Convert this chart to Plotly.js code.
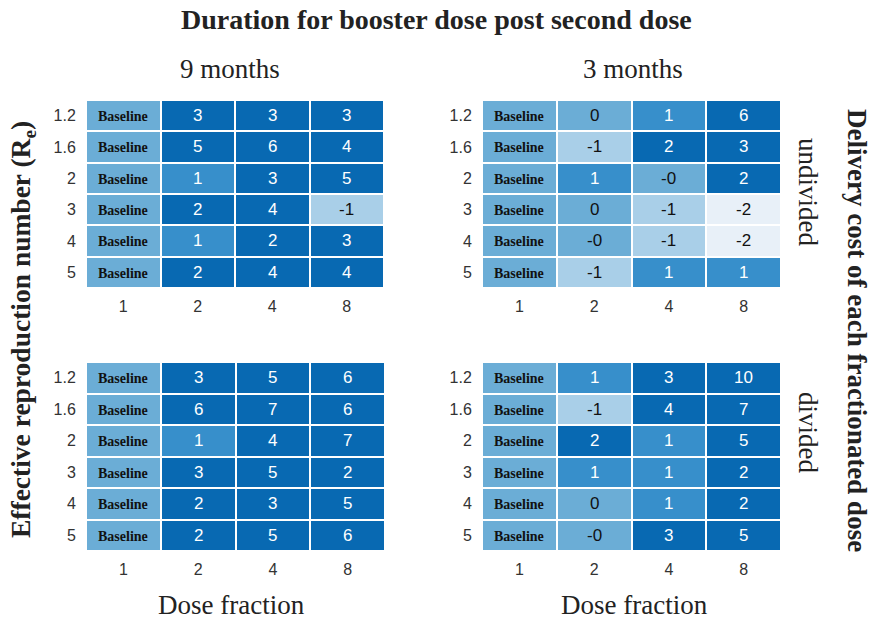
<!DOCTYPE html>
<html>
<head>
<meta charset="utf-8">
<script src="https://cdn.plot.ly/plotly-3.0.1.min.js"></script>
<style>html,body{margin:0;padding:0;background:#fff;}#chart{width:872px;height:619px;}</style>
</head>
<body>
<div id="chart"></div>
<script>
// Data
const rowLabels = ["1.2", "1.6", "2", "3", "4", "5"];
const colLabels = ["1", "2", "4", "8"];
const baselineLabel = "Baseline";
// values for dose fractions 2, 4, 8 (fraction 1 is Baseline)
const nineMonthsUndivided = [["3","3","3"],["5","6","4"],["1","3","5"],["2","4","-1"],["1","2","3"],["2","4","4"]];
const threeMonthsUndivided = [["0","1","6"],["-1","2","3"],["1","-0","2"],["0","-1","-2"],["-0","-1","-2"],["-1","1","1"]];
const nineMonthsDivided = [["3","5","6"],["6","7","6"],["1","4","7"],["3","5","2"],["2","3","5"],["2","5","6"]];
const threeMonthsDivided = [["1","3","10"],["-1","4","7"],["2","1","5"],["1","1","2"],["0","1","2"],["-0","3","5"]];

const colors = ['#e8f0f8', '#a9cfe8', '#6badd6', '#378fcb', '#0869b2'];
const colorscale = [
  [0, colors[0]], [0.125, colors[0]],
  [0.125, colors[1]], [0.375, colors[1]],
  [0.375, colors[2]], [0.625, colors[2]],
  [0.625, colors[3]], [0.875, colors[3]],
  [0.875, colors[4]], [1, colors[4]]
];

const panels = [
  {data: nineMonthsUndivided, xa: 'x', ya: 'y', xd: [86/872, 384/872], yd: [1-288/619, 1-100/619]},
  {data: threeMonthsUndivided, xa: 'x2', ya: 'y2', xd: [482/872, 781/872], yd: [1-288/619, 1-100/619]},
  {data: nineMonthsDivided, xa: 'x3', ya: 'y3', xd: [86/872, 385/872], yd: [1-551/619, 1-362/619]},
  {data: threeMonthsDivided, xa: 'x4', ya: 'y4', xd: [482/872, 781/872], yd: [1-551/619, 1-362/619]}
];

const traces = [];
const annotations = [];
const layout = {
  width: 872, height: 619,
  margin: {l: 0, r: 0, t: 0, b: 0},
  paper_bgcolor: '#fff', plot_bgcolor: '#fff',
  showlegend: false,
  annotations: annotations
};
const sans = 'Liberation Sans, Arial, sans-serif';
const serif = 'Liberation Serif, Times New Roman, serif';

panels.forEach((p, i) => {
  const z = p.data.map(r => [0].concat(r.map(v => parseFloat(v))));
  traces.push({
    type: 'heatmap',
    x: colLabels, y: rowLabels, z: z,
    xaxis: p.xa, yaxis: p.ya,
    colorscale: colorscale, zmin: -2, zmax: 2,
    showscale: false, xgap: 2, ygap: 2,
    hoverinfo: 'skip'
  });
  const xk = 'xaxis' + (i === 0 ? '' : (i + 1));
  const yk = 'yaxis' + (i === 0 ? '' : (i + 1));
  layout[xk] = {
    domain: p.xd, anchor: p.ya, type: 'category',
    categoryorder: 'array', categoryarray: colLabels,
    range: [-0.5, colLabels.length - 0.5],
    showgrid: false, zeroline: false, showline: false,
    ticks: 'outside', ticklen: 4, tickcolor: 'rgba(0,0,0,0)',
    tickfont: {family: sans, size: 16, color: '#333'}
  };
  layout[yk] = {
    domain: p.yd, anchor: p.xa, type: 'category',
    categoryorder: 'array', categoryarray: rowLabels,
    range: [rowLabels.length - 0.5, -0.5],
    showgrid: false, zeroline: false, showline: false,
    ticks: 'outside', ticklen: 6, tickcolor: 'rgba(0,0,0,0)',
    tickfont: {family: sans, size: 16, color: '#333'}
  };
  rowLabels.forEach((rl, ri) => {
    annotations.push({
      xref: p.xa, yref: p.ya, x: 0, y: ri, text: baselineLabel,
      showarrow: false, yshift: -1,
      font: {family: serif, size: 14, color: '#111', weight: 'bold'}
    });
    p.data[ri].forEach((v, ci) => {
      const val = parseFloat(v);
      annotations.push({
        xref: p.xa, yref: p.ya, x: ci + 1, y: ri, text: v,
        showarrow: false,
        font: {family: sans, size: 17, color: val >= 1 ? '#fff' : '#111'}
      });
    });
  });
});

function lbl(x, y, text, size, angle) {
  return {xref: 'paper', yref: 'paper', x: x/872, y: 1-y/619, xanchor: 'center', yanchor: 'middle',
    text: text, textangle: angle || 0, showarrow: false, font: {family: serif, size: size, color: '#222'}};
}
annotations.push(
  lbl(436, 20, '<b>Duration for booster dose post second dose</b>', 28),
  lbl(230, 69, '9 months', 27),
  lbl(633, 69, '3 months', 27),
  lbl(231, 605, 'Dose fraction', 27),
  lbl(634, 605, 'Dose fraction', 27),
  lbl(22, 330, '<b>Effective reproduction number (R<sub>e</sub>)</b>', 27.5, -90),
  lbl(857, 330, '<b>Delivery cost of each fractionated dose</b>', 27, 90),
  lbl(808, 192, 'undivided', 27, 90),
  lbl(808, 432, 'divided', 27, 90)
);

Plotly.newPlot('chart', traces, layout, {displayModeBar: false, staticPlot: true});
</script>
</body>
</html>
